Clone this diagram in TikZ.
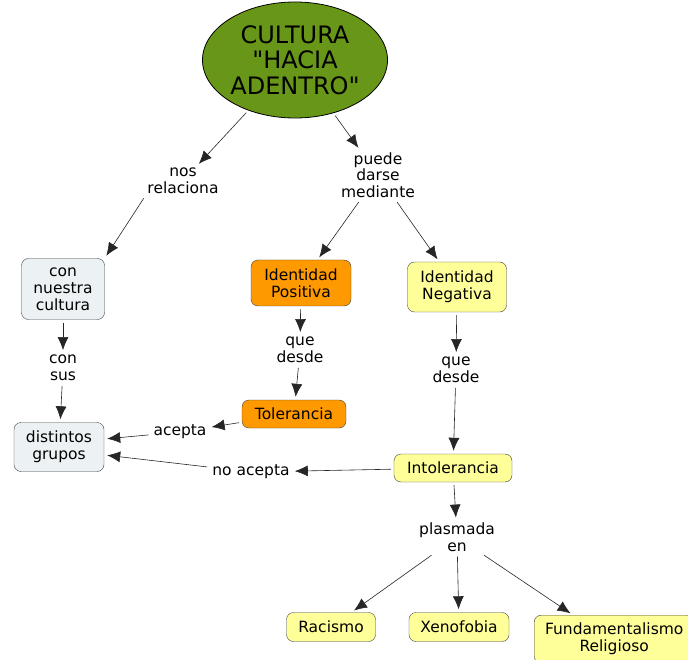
\documentclass[tikz,border=0pt]{standalone}
\usepackage{fontspec}
\setmainfont{DejaVu Sans}
\newfontfamily\verdfont{DejaVu Sans}
\usetikzlibrary{arrows.meta,shapes.geometric}
\definecolor{verde}{RGB}{104,150,24}
\definecolor{naranja}{RGB}{255,153,0}
\definecolor{amarillo}{RGB}{255,255,153}
\definecolor{gris}{RGB}{236,242,244}
\begin{document}
\begin{tikzpicture}[x=1pt,y=-1pt,>={Latex[length=13pt,width=11pt]},
  concept/.style={draw=black!75,rounded corners=7pt,align=center,
    font=\verdfont\fontsize{15.5}{17}\selectfont,inner sep=3pt},
  phrase/.style={align=center,font=\verdfont\fontsize{15.5}{16.5}\selectfont,inner sep=2pt},
  link/.style={->,black!85,semithick,shorten <=3pt,shorten >=3pt}]
\useasboundingbox (0,0) rectangle (688,660);
\clip (0,0) rectangle (688,660);
% concepts
\node[ellipse,draw=black,thick,fill=verde,minimum width=185pt,minimum height=116pt,
  align=center,font=\verdfont\fontsize{24}{25.5}\selectfont,inner sep=0pt] (cultura) at (295,60)
  {CULTURA\\"HACIA\\ADENTRO"};
\node[concept,fill=gris,minimum width=83pt,minimum height=61pt] (nuestra) at (63,289) {con\\nuestra\\cultura};
\node[concept,fill=gris,minimum width=90pt,minimum height=49pt] (grupos) at (59,447) {distintos\\grupos};
\node[concept,fill=naranja,minimum width=100pt,minimum height=46pt] (positiva) at (301,283) {Identidad\\Positiva};
\node[concept,fill=naranja,minimum width=104pt,minimum height=28pt] (tolerancia) at (294,414) {Tolerancia};
\node[concept,fill=amarillo,minimum width=99pt,minimum height=50pt] (negativa) at (457,287) {Identidad\\Negativa};
\node[concept,fill=amarillo,minimum width=118pt,minimum height=28pt] (intolerancia) at (453,468) {Intolerancia};
\node[concept,fill=amarillo,minimum width=89pt,minimum height=29pt] (racismo) at (331,627) {Racismo};
\node[concept,fill=amarillo,minimum width=100pt,minimum height=29pt] (xenofobia) at (459,627) {Xenofobia};
\node[concept,fill=amarillo,minimum width=160pt,minimum height=48pt,anchor=north west] (fundam) at (534,615) {Fundamentalismo\\Religioso};
% linking phrases
\node[phrase] (nos) at (183,181) {nos\\relaciona};
\node[phrase] (puede) at (378,175) {puede\\darse\\mediante};
\node[phrase] (consus) at (63,368) {con\\sus};
\node[phrase] (quepos) at (300,350) {que\\desde};
\node[phrase] (queneg) at (456,370) {que\\desde};
\node[phrase] (acepta) at (180,432) {acepta};
\node[phrase] (noacepta) at (251,472) {no acepta};
\node[phrase] (plasmada) at (457,537) {plasmada\\en};
% connectors
\draw[link] (cultura) -- (nos);
\draw[link] (nos.south west) -- (nuestra.north east);
\draw[link] (cultura) -- (puede);
\draw[link] (puede) -- (positiva);
\draw[link] (puede) -- (negativa);
\draw[link] (nuestra) -- (consus);
\draw[link] (consus) -- (grupos);
\draw[link] (positiva) -- (quepos);
\draw[link] (quepos) -- (tolerancia);
\draw[link] (tolerancia) -- (acepta);
\draw[link] (acepta) -- (grupos.10);
\draw[link] (negativa) -- (queneg);
\draw[link] (queneg) -- (intolerancia);
\draw[link] (intolerancia) -- (noacepta);
\draw[link] (noacepta) -- (grupos.-10);
\draw[link] (intolerancia) -- (plasmada);
\draw[link] (plasmada) -- (racismo);
\draw[link] (plasmada) -- (xenofobia);
\draw[link] (plasmada) -- (fundam.north west -| 573,615);
\end{tikzpicture}
\end{document}
